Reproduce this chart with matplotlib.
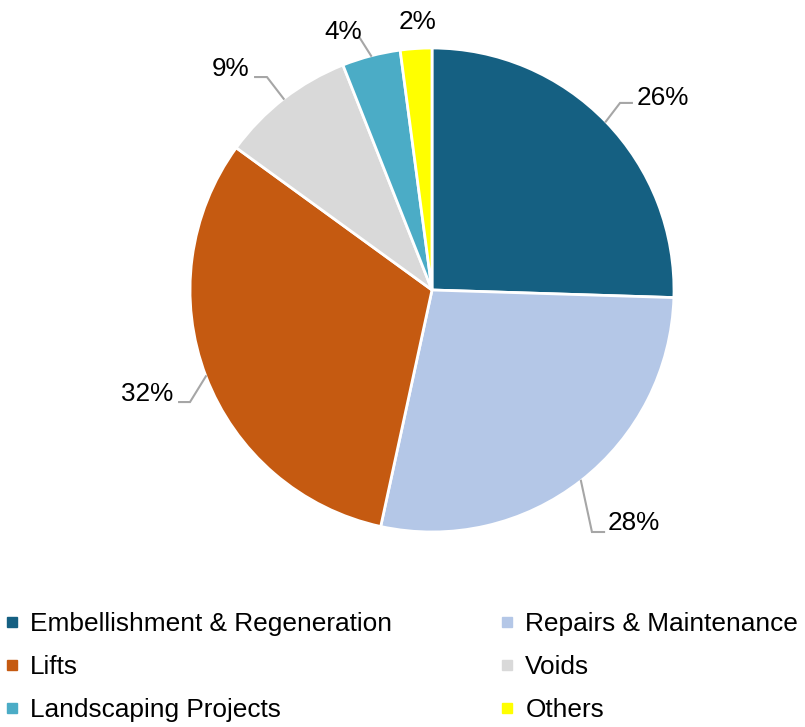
"""
Pie chart of spend by category with legend underneath.
"""
import numpy as np
import matplotlib.pyplot as plt
from matplotlib.lines import Line2D

plt.rcParams['font.family'] = ['Liberation Sans', 'DejaVu Sans']

categories = ['Embellishment & Regeneration', 'Repairs & Maintenance', 'Lifts',
              'Voids', 'Landscaping Projects', 'Others']
shares = [25.5, 27.9, 31.6, 9.0, 3.9, 2.1]
colors = ['#156082', '#b4c7e7', '#c55a11', '#d9d9d9', '#4bacc6', '#ffff00']

# label layout in pie units (radius = 1): text anchor, alignment, elbow, line end
label_layout = [
    ((0.847, 0.795), 'left', (0.777, 0.773), (0.826, 0.773)),
    ((0.727, -0.963), 'left', (0.661, -1.0), (0.711, -1.0)),
    ((-1.07, -0.43), 'right', (-1.0, -0.463), (-1.045, -0.463)),
    ((-0.756, 0.915), 'right', (-0.682, 0.880), (-0.731, 0.880)),
    ((-0.368, 1.066), 'center', None, (-0.298, 1.041)),
    ((-0.058, 1.107), 'center', None, None),
]

fig = plt.figure(figsize=(8.05, 7.27), dpi=100)
ax = fig.add_axes([190 / 805, 195 / 727, 484 / 805, 484 / 727])

wedges, _ = ax.pie(shares, colors=colors, startangle=90, counterclock=False,
                   wedgeprops=dict(edgecolor='white', linewidth=2))
ax.set_xlim(-1, 1)
ax.set_ylim(-1, 1)
ax.set_aspect('auto')

line_color = '#a6a6a6'
for w, val, (txt_xy, ha, elbow, end) in zip(wedges, shares, label_layout):
    mid = np.deg2rad((w.theta1 + w.theta2) / 2)
    edge = (np.cos(mid), np.sin(mid))
    if end is not None:
        pts = [edge] + ([elbow] if elbow is not None else []) + [end]
        xs, ys = zip(*pts)
        ax.plot(xs, ys, color=line_color, linewidth=1.5, clip_on=False,
                solid_joinstyle='miter')
    ax.text(txt_xy[0], txt_xy[1], f'{val:.0f}%', ha=ha, va='center',
            fontsize=18.8, color='black', clip_on=False)

# legend fills row by row in the reference, matplotlib fills by column
order = [0, 2, 4, 1, 3, 5]
handles = [Line2D([], [], linestyle='none', marker='s', markersize=6.5,
                  markerfacecolor=c, markeredgecolor=c) for c in colors]
fig.legend([handles[i] for i in order], [categories[i] for i in order],
           ncol=2, loc='upper left',
           bbox_to_anchor=(0.0, 0.165), frameon=False, fontsize=18.9,
           handlelength=0.5, handletextpad=0.45, columnspacing=4.12,
           labelspacing=0.72, borderaxespad=0, borderpad=0.2)

fig.savefig('out.png', dpi=100, facecolor='white')
